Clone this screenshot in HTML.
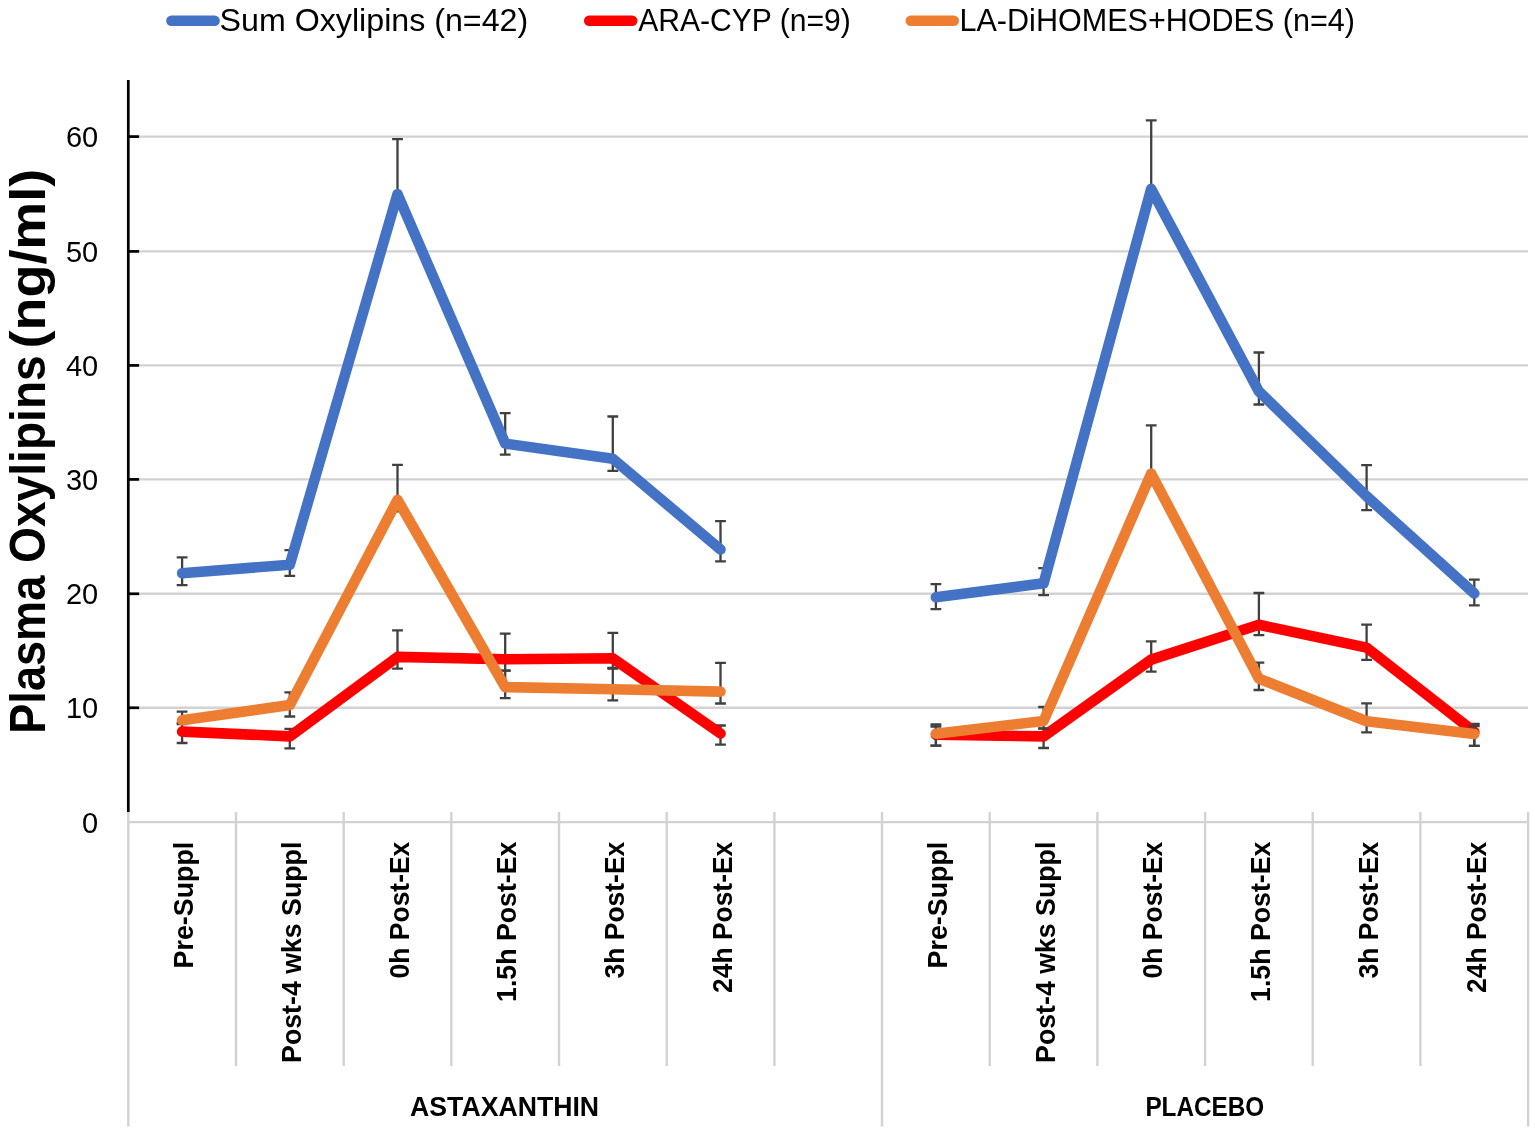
<!DOCTYPE html>
<html lang="en"><head><meta charset="utf-8"><title>Plasma Oxylipins</title>
<style>html,body{margin:0;padding:0;background:#fff;}body{width:1535px;height:1133px;overflow:hidden;}svg{display:block;}text{font-family:"Liberation Sans",Arial,sans-serif;fill:#000;}.b{font-weight:bold;}</style></head><body>
<svg width="1535" height="1133" viewBox="0 0 1535 1133">
<rect width="1535" height="1133" fill="#fff"/>
<g stroke="#d2d2d2" stroke-width="2.4" fill="none">
<line x1="128.3" y1="707.8" x2="1528.1" y2="707.8"/>
<line x1="128.3" y1="593.8" x2="1528.1" y2="593.8"/>
<line x1="128.3" y1="479.4" x2="1528.1" y2="479.4"/>
<line x1="128.3" y1="365.4" x2="1528.1" y2="365.4"/>
<line x1="128.3" y1="251.4" x2="1528.1" y2="251.4"/>
<line x1="128.3" y1="136.6" x2="1528.1" y2="136.6"/>
<line x1="128.3" y1="822.1" x2="1528.9" y2="822.1"/>
<line x1="128.3" y1="812" x2="128.3" y2="1126.5"/>
<line x1="236.0" y1="812" x2="236.0" y2="1066.0"/>
<line x1="343.7" y1="812" x2="343.7" y2="1066.0"/>
<line x1="451.3" y1="812" x2="451.3" y2="1066.0"/>
<line x1="559.0" y1="812" x2="559.0" y2="1066.0"/>
<line x1="666.7" y1="812" x2="666.7" y2="1066.0"/>
<line x1="774.4" y1="812" x2="774.4" y2="1066.0"/>
<line x1="882.0" y1="812" x2="882.0" y2="1126.5"/>
<line x1="989.7" y1="812" x2="989.7" y2="1066.0"/>
<line x1="1097.4" y1="812" x2="1097.4" y2="1066.0"/>
<line x1="1205.1" y1="812" x2="1205.1" y2="1066.0"/>
<line x1="1312.7" y1="812" x2="1312.7" y2="1066.0"/>
<line x1="1420.4" y1="812" x2="1420.4" y2="1066.0"/>
<line x1="1528.1" y1="812" x2="1528.1" y2="1126.5"/>
</g>
<g stroke="#000" stroke-width="2.7" fill="none">
<line x1="128.3" y1="80" x2="128.3" y2="812"/>
<line x1="128.3" y1="707.8" x2="139.1" y2="707.8"/>
<line x1="128.3" y1="593.8" x2="139.1" y2="593.8"/>
<line x1="128.3" y1="479.4" x2="139.1" y2="479.4"/>
<line x1="128.3" y1="365.4" x2="139.1" y2="365.4"/>
<line x1="128.3" y1="251.4" x2="139.1" y2="251.4"/>
<line x1="128.3" y1="136.6" x2="139.1" y2="136.6"/>
</g>
<g font-size="29" text-anchor="end">
<text x="98.2" y="832.5">0</text>
<text x="98.2" y="718.2">10</text>
<text x="98.2" y="604.2">20</text>
<text x="98.2" y="489.8">30</text>
<text x="98.2" y="375.8">40</text>
<text x="98.2" y="261.8">50</text>
<text x="98.2" y="147.0">60</text>
</g>
<g class="b" font-size="49.5">
<text transform="translate(45.1,733.8) rotate(-90)" textLength="158.2" lengthAdjust="spacingAndGlyphs">Plasma</text>
<text transform="translate(45.1,563.0) rotate(-90)" textLength="207.8" lengthAdjust="spacingAndGlyphs">Oxylipins</text>
<text transform="translate(45.1,348.5) rotate(-90)" textLength="179.8" lengthAdjust="spacingAndGlyphs">(ng/ml)</text>
</g>
<g stroke="#404040" stroke-width="2.3" fill="none">
<path d="M182.1 557.3V585.1M176.7 557.3h10.8M176.7 585.1h10.8"/>
<path d="M289.8 550.2V575.9M284.4 550.2h10.8M284.4 575.9h10.8"/>
<path d="M397.5 139.2V205.6M392.1 139.2h10.8M392.1 205.6h10.8"/>
<path d="M505.2 413.1V454.7M499.8 413.1h10.8M499.8 454.7h10.8"/>
<path d="M612.8 416.5V470.8M607.4 416.5h10.8M607.4 470.8h10.8"/>
<path d="M720.5 521.2V561.4M715.1 521.2h10.8M715.1 561.4h10.8"/>
<path d="M935.9 584.1V609.2M930.5 584.1h10.8M930.5 609.2h10.8"/>
<path d="M1043.6 568.2V595.2M1038.2 568.2h10.8M1038.2 595.2h10.8"/>
<path d="M1151.2 120.4V200.3M1145.8 120.4h10.8M1145.8 200.3h10.8"/>
<path d="M1258.9 352.5V404.5M1253.5 352.5h10.8M1253.5 404.5h10.8"/>
<path d="M1366.6 465.1V510.1M1361.2 465.1h10.8M1361.2 510.1h10.8"/>
<path d="M1474.3 579.7V605.4M1468.9 579.7h10.8M1468.9 605.4h10.8"/>
</g>
<polyline points="182.1,573.2 289.8,564.7 397.5,194.2 505.2,443.6 612.8,458.7 720.5,549.5" fill="none" stroke="#4472c4" stroke-width="10.6" stroke-linecap="round" stroke-linejoin="round"/>
<polyline points="935.9,597.3 1043.6,583.3 1151.2,188.9 1258.9,391.4 1366.6,496.3 1474.3,593.5" fill="none" stroke="#4472c4" stroke-width="10.6" stroke-linecap="round" stroke-linejoin="round"/>
<g stroke="#404040" stroke-width="2.3" fill="none">
<path d="M182.1 724.0V743.0M176.7 724.0h10.8M176.7 743.0h10.8"/>
<path d="M289.8 728.9V748.3M284.4 728.9h10.8M284.4 748.3h10.8"/>
<path d="M397.5 630.4V668.6M392.1 630.4h10.8M392.1 668.6h10.8"/>
<path d="M505.2 633.6V670.7M499.8 633.6h10.8M499.8 670.7h10.8"/>
<path d="M612.8 632.8V668.0M607.4 632.8h10.8M607.4 668.0h10.8"/>
<path d="M720.5 725.5V744.6M715.1 725.5h10.8M715.1 744.6h10.8"/>
<path d="M935.9 724.5V745.6M930.5 724.5h10.8M930.5 745.6h10.8"/>
<path d="M1043.6 728.4V748.0M1038.2 728.4h10.8M1038.2 748.0h10.8"/>
<path d="M1151.2 641.4V671.6M1145.8 641.4h10.8M1145.8 671.6h10.8"/>
<path d="M1258.9 593.0V635.1M1253.5 593.0h10.8M1253.5 635.1h10.8"/>
<path d="M1366.6 624.6V659.8M1361.2 624.6h10.8M1361.2 659.8h10.8"/>
<path d="M1474.3 723.9V745.9M1468.9 723.9h10.8M1468.9 745.9h10.8"/>
</g>
<polyline points="182.1,731.6 289.8,736.4 397.5,656.9 505.2,659.3 612.8,658.3 720.5,733.5" fill="none" stroke="#ff0000" stroke-width="10.6" stroke-linecap="round" stroke-linejoin="round"/>
<polyline points="935.9,734.8 1043.6,736.4 1151.2,659.6 1258.9,624.8 1366.6,647.6 1474.3,731.9" fill="none" stroke="#ff0000" stroke-width="10.6" stroke-linecap="round" stroke-linejoin="round"/>
<g stroke="#404040" stroke-width="2.3" fill="none">
<path d="M182.1 711.7V723.0M176.7 711.7h10.8M176.7 723.0h10.8"/>
<path d="M289.8 692.4V716.5M284.4 692.4h10.8M284.4 716.5h10.8"/>
<path d="M397.5 464.8V511.3M392.1 464.8h10.8M392.1 511.3h10.8"/>
<path d="M505.2 670.7V698.2M499.8 670.7h10.8M499.8 698.2h10.8"/>
<path d="M612.8 668.6V700.4M607.4 668.6h10.8M607.4 700.4h10.8"/>
<path d="M720.5 662.8V703.5M715.1 662.8h10.8M715.1 703.5h10.8"/>
<path d="M935.9 726.5V745.6M930.5 726.5h10.8M930.5 745.6h10.8"/>
<path d="M1043.6 707.0V728.6M1038.2 707.0h10.8M1038.2 728.6h10.8"/>
<path d="M1151.2 425.3V485.0M1145.8 425.3h10.8M1145.8 485.0h10.8"/>
<path d="M1258.9 662.6V690.0M1253.5 662.6h10.8M1253.5 690.0h10.8"/>
<path d="M1366.6 703.3V732.4M1361.2 703.3h10.8M1361.2 732.4h10.8"/>
<path d="M1474.3 726.0V745.9M1468.9 726.0h10.8M1468.9 745.9h10.8"/>
</g>
<polyline points="182.1,720.2 289.8,705.1 397.5,499.9 505.2,687.1 612.8,689.2 720.5,691.6" fill="none" stroke="#ed7d31" stroke-width="10.6" stroke-linecap="round" stroke-linejoin="round"/>
<polyline points="935.9,733.7 1043.6,721.0 1151.2,473.6 1258.9,678.6 1366.6,721.3 1474.3,734.0" fill="none" stroke="#ed7d31" stroke-width="10.6" stroke-linecap="round" stroke-linejoin="round"/>
<g stroke-width="10.5" stroke-linecap="round" fill="none">
<line x1="171.4" y1="20.8" x2="214.6" y2="20.8" stroke="#4472c4"/>
<line x1="589.2" y1="20.8" x2="632.2" y2="20.8" stroke="#ff0000"/>
<line x1="910.8" y1="20.8" x2="953.8" y2="20.8" stroke="#ed7d31"/>
</g>
<g font-size="31.2">
<text x="219.6" y="30.6" textLength="308.6" lengthAdjust="spacingAndGlyphs">Sum Oxylipins (n=42)</text>
<text x="638.2" y="30.6" textLength="212.6" lengthAdjust="spacingAndGlyphs">ARA-CYP (n=9)</text>
<text x="959.5" y="30.6" textLength="395.5" lengthAdjust="spacingAndGlyphs">LA-DiHOMES+HODES (n=4)</text>
</g>
<g class="b" font-size="27.5" text-anchor="end">
<text transform="translate(193.3,841.7) rotate(-90)" textLength="126.7" lengthAdjust="spacingAndGlyphs">Pre-Suppl</text>
<text transform="translate(301.0,841.7) rotate(-90)" textLength="221.2" lengthAdjust="spacingAndGlyphs">Post-4 wks Suppl</text>
<text transform="translate(408.7,841.7) rotate(-90)" textLength="136.7" lengthAdjust="spacingAndGlyphs">0h Post-Ex</text>
<text transform="translate(516.4,841.7) rotate(-90)" textLength="160.2" lengthAdjust="spacingAndGlyphs">1.5h Post-Ex</text>
<text transform="translate(624.0,841.7) rotate(-90)" textLength="136.8" lengthAdjust="spacingAndGlyphs">3h Post-Ex</text>
<text transform="translate(731.7,841.7) rotate(-90)" textLength="151.3" lengthAdjust="spacingAndGlyphs">24h Post-Ex</text>
<text transform="translate(947.1,841.7) rotate(-90)" textLength="126.7" lengthAdjust="spacingAndGlyphs">Pre-Suppl</text>
<text transform="translate(1054.8,841.7) rotate(-90)" textLength="221.2" lengthAdjust="spacingAndGlyphs">Post-4 wks Suppl</text>
<text transform="translate(1162.4,841.7) rotate(-90)" textLength="136.7" lengthAdjust="spacingAndGlyphs">0h Post-Ex</text>
<text transform="translate(1270.1,841.7) rotate(-90)" textLength="160.2" lengthAdjust="spacingAndGlyphs">1.5h Post-Ex</text>
<text transform="translate(1377.8,841.7) rotate(-90)" textLength="136.8" lengthAdjust="spacingAndGlyphs">3h Post-Ex</text>
<text transform="translate(1485.5,841.7) rotate(-90)" textLength="151.3" lengthAdjust="spacingAndGlyphs">24h Post-Ex</text>
</g>
<g class="b" font-size="26.8" text-anchor="middle">
<text x="504.6" y="1116.3" textLength="189" lengthAdjust="spacingAndGlyphs">ASTAXANTHIN</text>
<text x="1204.8" y="1116.3" textLength="118.8" lengthAdjust="spacingAndGlyphs">PLACEBO</text>
</g>
</svg></body></html>
